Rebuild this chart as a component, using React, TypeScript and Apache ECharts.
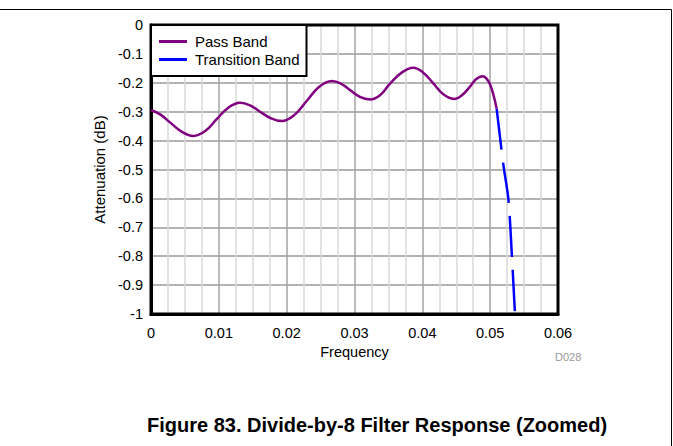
import React, { useEffect, useRef } from "react";
import * as echarts from "echarts";

const seriesNames = ["Pass Band", "Transition Band"];

const passFreq = [
  0, 0.0014, 0.0028, 0.0045, 0.00624, 0.008, 0.00968, 0.0114, 0.01312,
  0.0146, 0.01607, 0.0177, 0.01927, 0.0211, 0.02295, 0.0248, 0.02664, 0.028,
  0.02934, 0.0308, 0.03228, 0.0338, 0.03523, 0.037, 0.03867, 0.0401, 0.04162,
  0.0431, 0.04467, 0.0458, 0.047, 0.0479, 0.0489, 0.0494, 0.04997, 0.0505,
  0.05096,
];
const passAtten = [
  -0.294, -0.31, -0.337, -0.369, -0.384, -0.367, -0.326, -0.286, -0.269,
  -0.278, -0.3, -0.323, -0.332, -0.312, -0.263, -0.214, -0.194, -0.203,
  -0.225, -0.249, -0.258, -0.242, -0.203, -0.164, -0.148, -0.164, -0.202,
  -0.24, -0.256, -0.244, -0.214, -0.188, -0.177, -0.184, -0.205, -0.243,
  -0.29,
];

const transFreq = [0.05096, 0.05195, 0.0527, 0.05322, 0.05366];
const transAtten = [-0.29, -0.484, -0.606, -0.807, -1.0];

const xMin = 0;
const xMax = 0.06;
const xStep = 0.01;
const yMin = -1;
const yMax = 0;
const yStep = 0.1;

const titleText = "Figure 83. Divide-by-8 Filter Response (Zoomed)";
const xName = "Frequency";
const yName = "Attenuation (dB)";
const docId = "D028";

const FONT = "'Liberation Sans', Arial, Helvetica, sans-serif";

export default function App() {
  const ref = useRef<HTMLDivElement>(null);

  useEffect(() => {
    if (!ref.current) return;
    const chart = echarts.init(ref.current, undefined, { renderer: "svg" });

    const passData = passFreq.map((f, i) => [f, passAtten[i]]);
    const transData = transFreq.map((f, i) => [f, transAtten[i]]);

    chart.setOption({
      animation: false,
      backgroundColor: "#ffffff",
      textStyle: { fontFamily: FONT },
      title: {
        text: titleText,
        left: 147,
        top: 415,
        padding: 0,
        textStyle: {
          fontFamily: FONT,
          fontSize: 20,
          fontWeight: "bold",
          color: "#000",
        },
      },
      grid: {
        left: 151,
        top: 25,
        width: 407,
        height: 289,
        show: true,
        borderColor: "#000",
        borderWidth: 3,
        containLabel: false,
        z: 3,
      },
      legend: {
        data: seriesNames,
        orient: "vertical",
        left: 151,
        top: 25,
        padding: [9, 7, 9, 8],
        itemGap: 3,
        itemWidth: 28,
        itemHeight: 3,
        icon: "rect",
        backgroundColor: "#fff",
        borderColor: "#000",
        borderWidth: 2,
        textStyle: {
          fontFamily: FONT,
          fontSize: 15,
          color: "#000",
          padding: [0, 0, 0, 3],
        },
        z: 10,
      },
      xAxis: {
        type: "value",
        min: xMin,
        max: xMax,
        interval: xStep,
        name: xName,
        nameLocation: "middle",
        nameGap: 23,
        nameTextStyle: { fontFamily: FONT, fontSize: 14.5, color: "#000" },
        axisLine: { show: true, onZero: false, lineStyle: { color: "#000", width: 3 } },
        axisTick: { show: false },
        axisLabel: {
          margin: 11,
          fontFamily: FONT,
          fontSize: 14.5,
          color: "#000",
        },
        splitLine: { show: true, lineStyle: { color: "#a3a3a3", width: 1.5 } },
        minorTick: { show: false, splitNumber: 4 },
        minorSplitLine: { show: true, lineStyle: { color: "#d9d9d9", width: 1.5 } },
      },
      yAxis: {
        type: "value",
        min: yMin,
        max: yMax,
        interval: yStep,
        name: yName,
        nameLocation: "middle",
        nameGap: 44,
        nameRotate: 90,
        nameTextStyle: { fontFamily: FONT, fontSize: 15, color: "#000" },
        axisLine: { show: true, onZero: false, lineStyle: { color: "#000", width: 3 } },
        axisTick: { show: false },
        axisLabel: {
          margin: 8,
          fontFamily: FONT,
          fontSize: 14.5,
          color: "#000",
        },
        splitLine: { show: true, lineStyle: { color: "#9a9a9a", width: 1.5 } },
      },
      series: [
        {
          name: seriesNames[0],
          type: "line",
          data: passData,
          smooth: 0.4,
          showSymbol: false,
          symbol: "none",
          lineStyle: { color: "#800080", width: 2.5 },
          itemStyle: { color: "#800080" },
          z: 5,
        },
        {
          name: seriesNames[1],
          type: "line",
          data: transData,
          smooth: 0.3,
          showSymbol: false,
          symbol: "none",
          lineStyle: { color: "#0000ff", width: 2.5, type: [41, 13] },
          itemStyle: { color: "#0000ff" },
          z: 5,
        },
      ],
      graphic: [
        {
          type: "line",
          shape: { x1: 0, y1: 9.5, x2: 671.5, y2: 9.5 },
          style: { stroke: "#000", lineWidth: 1 },
        },
        {
          type: "line",
          shape: { x1: 671.5, y1: 9.5, x2: 671.5, y2: 446 },
          style: { stroke: "#000", lineWidth: 1 },
        },
        {
          type: "text",
          x: 555,
          y: 357,
          style: {
            text: docId,
            fontFamily: FONT,
            fontSize: 11,
            fill: "#999",
            textVerticalAlign: "middle",
          },
        },
      ],
    });

    return () => {
      chart.dispose();
    };
  }, []);

  return (
    <div
      ref={ref}
      style={{ position: "fixed", left: 0, top: 0, width: 673, height: 446 }}
    />
  );
}
